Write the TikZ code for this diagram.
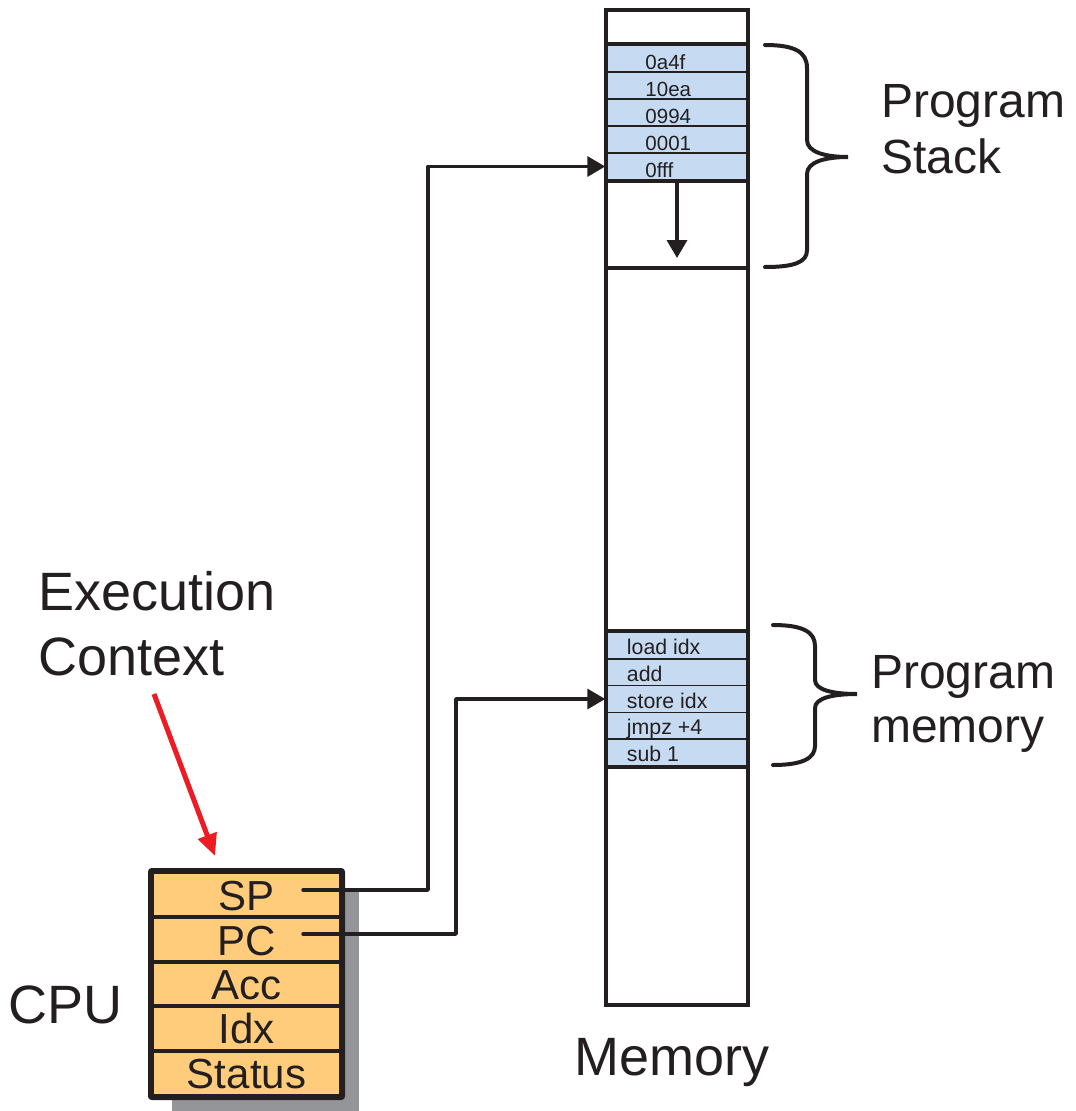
\documentclass[tikz,border=0pt]{standalone}
\usepackage{fontspec}
\setmainfont{Liberation Sans}
\usetikzlibrary{arrows.meta,calc}
\definecolor{ink}{HTML}{231F20}
\definecolor{cellblue}{HTML}{C6DAF1}
\definecolor{regorange}{HTML}{FFCC7B}
\definecolor{shadowgray}{HTML}{939598}
\definecolor{arrowred}{HTML}{ED1C24}
\begin{document}
\begin{tikzpicture}[x=1pt,y=-1pt,
  biglabel/.style={anchor=base west, inner sep=0, text=ink, font=\fontsize{54}{60}\selectfont},
  sidelabel/.style={anchor=base west, inner sep=0, text=ink, font=\fontsize{48}{56}\selectfont},
  memcell/.style={draw=ink, line width=1.5pt, fill=cellblue, minimum width=142pt, inner sep=0pt},
  stacktext/.style={anchor=base west, inner sep=0, text=ink, font=\fontsize{20.5}{22}\selectfont},
  progtext/.style={anchor=base west, inner sep=0, text=ink, font=\fontsize{21.3}{23}\selectfont},
  memframe/.style={draw=ink, line width=4pt, minimum width=142pt, minimum height=995pt, inner sep=0pt},
  thickline/.style={draw=ink, line width=4pt},
  regcell/.style={draw=ink, line width=4pt, fill=regorange, minimum width=189pt, minimum height=44.8pt, inner sep=0pt},
  regtext/.style={anchor=base, inner sep=0, text=ink, font=\fontsize{42}{44}\selectfont},
  conn/.style={draw=ink, line width=3.5pt, line join=round, line cap=round, -{Triangle[length=18pt,width=20pt]}},
  redarrow/.style={draw=arrowred, line width=5pt, -{Triangle[length=22pt,width=19pt]}},
  bracepath/.style={draw=ink, line width=4pt, line cap=round}
]
\useasboundingbox (0,0) rectangle (1076,1111);

% ---------- Memory column ----------
\node[memframe] (mem) at (677,507.5) {};
% stack cells
\node[memcell, minimum height=27pt] (s1) at (677,58.5) {};
\node[memcell, minimum height=27pt] (s2) at (677,85.5) {};
\node[memcell, minimum height=27pt] (s3) at (677,112.5) {};
\node[memcell, minimum height=27pt] (s4) at (677,139.5) {};
\node[memcell, minimum height=27pt] (s5) at (677,166.5) {};
\node[stacktext] at ($(s1.south west)+(40,-3.5)$) {0a4f};
\node[stacktext] at ($(s2.south west)+(40,-3.5)$) {10ea};
\node[stacktext] at ($(s3.south west)+(40,-3.5)$) {0994};
\node[stacktext] at ($(s4.south west)+(40,-3.5)$) {0001};
\node[stacktext] at ($(s5.south west)+(40,-3.5)$) {0fff};
% program cells
\node[memcell, minimum height=26.8pt] (p1) at (677,645.4) {};
\node[memcell, minimum height=26.8pt] (p2) at (677,672.2) {};
\node[memcell, minimum height=26.8pt] (p3) at (677,699.0) {};
\node[memcell, minimum height=26.8pt] (p4) at (677,725.8) {};
\node[memcell, minimum height=26.8pt] (p5) at (677,752.6) {};
\node[progtext] at ($(p1.south west)+(21.5,-5)$) {load idx};
\node[progtext] at ($(p2.south west)+(21.5,-5)$) {add};
\node[progtext] at ($(p3.south west)+(21.5,-5)$) {store idx};
\node[progtext] at ($(p4.south west)+(21.5,-5)$) {jmpz +4};
\node[progtext] at ($(p5.south west)+(21.5,-5)$) {sub 1};
% frame and thick separators on top
\node[memframe] at (mem.center) {};
\draw[thickline] (s1.north west) -- (s1.north east);
\draw[thickline] (s5.south west) -- (s5.south east);
\draw[thickline] (606,268) -- (748,268);
\draw[thickline] (p1.north west) -- (p1.north east);
\draw[thickline] (p5.south west) -- (p5.south east);

% ---------- CPU ----------
\fill[shadowgray] (172,890) rectangle (359,1111);
\node[regcell] (sp) at (246.5,894.4) {};
\node[regcell] (pc) at (246.5,939.2) {};
\node[regcell] (acc) at (246.5,984.0) {};
\node[regcell] (idx) at (246.5,1028.8) {};
\node[regcell] (st) at (246.5,1073.6) {};
\draw[ink, line width=4pt, rounded corners=2pt] (sp.north west) rectangle (st.south east);
\node[regtext] at ($(sp.south)+(0,-8)$) {SP};
\node[regtext] at ($(pc.south)+(0,-8)$) {PC};
\node[regtext] at ($(acc.south)+(0,-9)$) {Acc};
\node[regtext] at ($(idx.south)+(0,-10)$) {Idx};
\node[regtext] at ($(st.south)+(0,-10)$) {Status};

% ---------- connectors ----------
\coordinate (spstart) at (303,890);
\coordinate (spbend) at (428,890);
\coordinate (pcstart) at (303,934);
\coordinate (pcbend) at (456,934);
\coordinate (stacktip) at (677,258);
\draw[conn] (spstart) -- (spbend) |- (s5.west);
\draw[conn] (pcstart) -- (pcbend) |- (p3.west);
\draw[conn, line cap=butt] (s5.south) -- (stacktip);

% ---------- braces ----------
\draw[bracepath] (765,45) .. controls (795,45) and (807,52) .. (807,68) -- (807,140)
  .. controls (807,152) and (825,157) .. (848,157)
  .. controls (825,157) and (807,162) .. (807,174) -- (807,250)
  .. controls (807,262) and (795,267) .. (765,267);
\draw[bracepath] (773,625) .. controls (803,625) and (815,632) .. (815,646) -- (815,680)
  .. controls (815,690) and (833,694) .. (857,694)
  .. controls (833,694) and (815,698) .. (815,708) -- (815,746)
  .. controls (815,758) and (803,765) .. (773,765);

% ---------- labels ----------
\node[sidelabel] (lps1) at (881,117) {Program};
\node[sidelabel] (lps2) at (881,173) {Stack};
\node[sidelabel] (lpm1) at (871,688) {Program};
\node[sidelabel] (lpm2) at (871,742) {memory};
\node[biglabel] (lec1) at (38,610) {Execution};
\node[biglabel] (lec2) at (38,675) {Context};
\node[biglabel] (lcpu) at (8,1023) {CPU};
\node[biglabel] (lmem) at (574,1075) {Memory};

% ---------- red arrow ----------
\coordinate (redstart) at (154,694);
\coordinate (redend) at (215,856);
\draw[redarrow] (redstart) -- (redend);
\end{tikzpicture}
\end{document}
